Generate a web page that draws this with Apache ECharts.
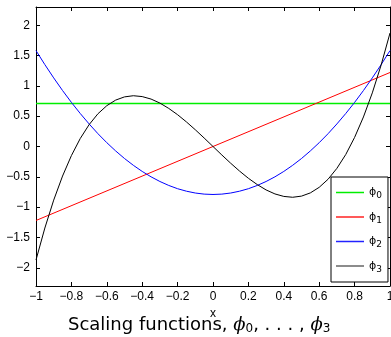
<!DOCTYPE html>
<html>
<head>
<meta charset="utf-8">
<script src="https://cdn.jsdelivr.net/npm/echarts@6/dist/echarts.min.js"></script>
<style>
  html, body { margin: 0; padding: 0; background: #fff; }
  #chart { width: 391px; height: 337px; }
</style>
</head>
<body>
<div id="chart"></div>
<script>
// straight lines only need their ends
const lineXs = [-1, 1]
const phi0 = [0.707, 0.707]
const phi1 = [-1.22, 1.22]
// curves, x = -1 .. 1 step 0.05
const curveXs = [-1, -0.95, -0.9, -0.85, -0.8, -0.75, -0.7, -0.65, -0.6, -0.55, -0.5,
  -0.45, -0.4, -0.35, -0.3, -0.25, -0.2, -0.15, -0.1, -0.05, 0,
  0.05, 0.1, 0.15, 0.2, 0.25, 0.3, 0.35, 0.4, 0.45, 0.5,
  0.55, 0.6, 0.65, 0.7, 0.75, 0.8, 0.85, 0.9, 0.95, 1]
const phi2 = [1.581, 1.350, 1.131, 0.923, 0.727, 0.544, 0.372, 0.211, 0.063, -0.073, -0.198,
  -0.310, -0.411, -0.500, -0.577, -0.642, -0.696, -0.737, -0.767, -0.785, -0.791,
  -0.785, -0.767, -0.737, -0.696, -0.642, -0.577, -0.500, -0.411, -0.310, -0.198,
  -0.073, 0.063, 0.211, 0.372, 0.544, 0.727, 0.923, 1.131, 1.350, 1.581]
const phi3 = [-1.871, -1.344, -0.884, -0.487, -0.150, 0.132, 0.360, 0.540, 0.673, 0.765, 0.818,
  0.837, 0.823, 0.782, 0.716, 0.628, 0.524, 0.405, 0.276, 0.140, 0,
  -0.140, -0.276, -0.405, -0.524, -0.628, -0.716, -0.782, -0.823, -0.837, -0.818,
  -0.765, -0.673, -0.540, -0.360, -0.132, 0.150, 0.487, 0.884, 1.344, 1.871]
const yTicks = [-2, -1.5, -1, -0.5, 0, 0.5, 1, 1.5, 2]
const xTicks = [-1, -0.8, -0.6, -0.4, -0.2, 0, 0.2, 0.4, 0.6, 0.8, 1]

const names = ['ϕ0', 'ϕ1', 'ϕ2', 'ϕ3']
const colors = ['#00ee00', '#ff0000', '#0000ff', '#000000']
const legendColors = ['#00ee00', '#ff2222', '#2222ff', '#666666']
const seriesXs = [lineXs, lineXs, curveXs, curveXs]
const values = [phi0, phi1, phi2, phi3]

const fmt = (v) => String(v).replace('-', '\u2212')
const axisFont = { color: '#000', fontFamily: 'Liberation Sans', fontSize: 12 }

const chart = echarts.init(document.getElementById('chart'), null, { renderer: 'canvas' })

const xBase = {
  type: 'value',
  min: -1,
  max: 1,
  axisLine: { show: true, onZero: false, lineStyle: { color: '#000', width: 1 } },
  axisTick: { show: true, inside: true, length: 4, customValues: xTicks, lineStyle: { color: '#000' } },
  splitLine: { show: false },
}
const yBase = {
  type: 'value',
  min: -2.3,
  max: 2.3,
  axisLine: { show: true, onZero: false, lineStyle: { color: '#000', width: 1 } },
  axisTick: { show: true, inside: true, length: 4, customValues: yTicks, lineStyle: { color: '#000' } },
  splitLine: { show: false },
}

chart.setOption({
  animation: false,
  grid: { left: 36, right: 1, top: 7, bottom: 51, outerBoundsMode: 'none' },
  title: {
    text: 'Scaling functions, {p|ϕ}{s|0}, . . . , {p|ϕ}{s|3}',
    left: 68,
    top: 316,
    padding: 0,
    textStyle: {
      fontFamily: 'DejaVu Sans',
      fontSize: 18,
      fontWeight: 'normal',
      color: '#000',
      rich: {
        p: { fontFamily: 'DejaVu Serif', fontStyle: 'italic', fontSize: 18, color: '#000' },
        s: { fontFamily: 'DejaVu Sans', fontSize: 12, color: '#000', verticalAlign: 'bottom', padding: [7, 0, 0, 0] },
      },
    },
  },
  legend: {
    orient: 'vertical',
    left: 331,
    top: 177,
    width: 58,
    padding: [10, 6, 8, 5],
    itemGap: 11,
    itemWidth: 28,
    itemHeight: 1.5,
    icon: 'rect',
    borderColor: '#000',
    borderWidth: 1,
    borderRadius: 0,
    backgroundColor: '#fff',
    data: names.map((name, i) => ({ name, itemStyle: { color: legendColors[i] } })),
    formatter: (name) => `{p|ϕ}{s|${name.slice(1)}}`,
    textStyle: {
      color: '#000',
      rich: {
        p: { fontFamily: 'DejaVu Sans', fontSize: 11, color: '#000' },
        s: { fontFamily: 'DejaVu Sans', fontSize: 9, color: '#000', verticalAlign: 'bottom', padding: [7, 0, 0, 0] },
      },
    },
  },
  xAxis: [
    {
      ...xBase,
      position: 'bottom',
      name: 'x',
      nameLocation: 'middle',
      nameGap: 18,
      nameTextStyle: { ...axisFont, fontSize: 12 },
      axisLabel: { ...axisFont, margin: 5, customValues: xTicks, formatter: fmt },
    },
    { ...xBase, position: 'top', axisLabel: { show: false } },
  ],
  yAxis: [
    {
      ...yBase,
      position: 'left',
      axisLabel: { ...axisFont, margin: 6, customValues: yTicks, formatter: fmt },
    },
    { ...yBase, position: 'right', axisLabel: { show: false } },
  ],
  series: names.map((name, i) => ({
    name,
    type: 'line',
    smooth: false,
    showSymbol: false,
    symbol: 'none',
    clip: true,
    color: colors[i],
    lineStyle: { width: i === 0 ? 1.5 : 1, color: colors[i] },
    data: seriesXs[i].map((x, k) => [x, values[i][k]]),
  })),
})
</script>
</body>
</html>
